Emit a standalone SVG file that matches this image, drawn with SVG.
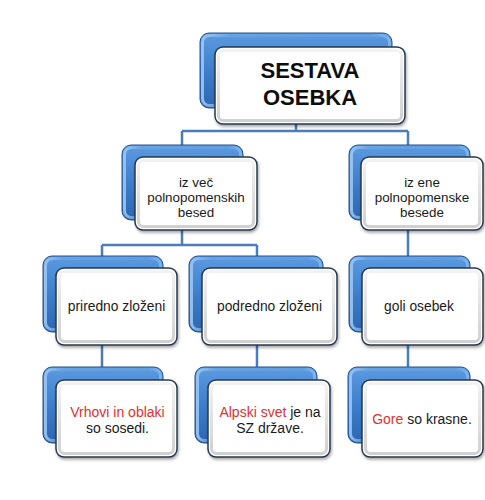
<svg xmlns="http://www.w3.org/2000/svg" width="485" height="500" viewBox="0 0 485 500">
<defs>
<linearGradient id="gBlue" x1="0" y1="0" x2="0" y2="1">
<stop offset="0" stop-color="#5C9BE0"/>
<stop offset="0.5" stop-color="#3E7ECC"/>
<stop offset="1" stop-color="#2C66B0"/>
</linearGradient>
<linearGradient id="gBlueHi" x1="0" y1="0" x2="1" y2="0">
<stop offset="0" stop-color="#9CC7F5" stop-opacity="0.9"/>
<stop offset="0.15" stop-color="#9CC7F5" stop-opacity="0.2"/>
<stop offset="0.9" stop-color="#9CC7F5" stop-opacity="0.1"/>
<stop offset="1" stop-color="#9CC7F5" stop-opacity="0.6"/>
</linearGradient>
<linearGradient id="gBevel" x1="0" y1="0" x2="0" y2="1">
<stop offset="0" stop-color="#F2F2F2"/>
<stop offset="1" stop-color="#D0D0D0"/>
</linearGradient>
<filter id="sh" x="-10%" y="-10%" width="125%" height="130%">
<feDropShadow dx="1" dy="2" stdDeviation="1.6" flood-color="#000" flood-opacity="0.35"/>
</filter>
</defs>
<style>
.b{fill:url(#gBlue);stroke:#22508E;stroke-width:1}
.bh{fill:none;stroke:url(#gBlueHi);stroke-width:3}
.w{fill:#FFFFFF;stroke:#26384F;stroke-width:1.5;filter:url(#sh)}
.wi{fill:none;stroke:url(#gBevel);stroke-width:3}
.c{fill:none;stroke:#4A7DBA;stroke-width:2.5}
text{font-family:"Liberation Sans",Arial,sans-serif;fill:#1A1A1A;text-anchor:middle}
.t{font-size:22px;font-weight:bold;fill:#0D0D0D}
.m{font-size:13.4px}
.l3{font-size:13.8px}
.s{font-size:14px}
.r{fill:#E3302F}
</style>
<g id="connectors">
<path class="c" d="M296 110 V131 M182 131 H408 M182 131 V146 M408 131 V146"/>
<path class="c" d="M182 220 V245 M102 245 H257 M102 245 V257 M257 245 V257"/>
<path class="c" d="M408 220 V257"/>
<path class="c" d="M102 332 V368 M257 332 V368 M408 332 V368"/>
</g>
<g id="n-root">
<rect class="b" x="200" y="33" width="192" height="75" rx="9"/>
<rect class="bh" x="202.5" y="35.5" width="187" height="70" rx="7"/>
<rect class="w" x="215" y="47" width="190" height="77" rx="8"/>
<rect class="wi" x="218.5" y="50.5" width="183" height="70" rx="5"/>
<text class="t" x="310" y="78">SESTAVA</text>
<text class="t" x="310" y="105">OSEBKA</text>
</g>
<g id="n-vec">
<rect class="b" x="122" y="145" width="121" height="75" rx="9"/>
<rect class="bh" x="124.5" y="147.5" width="116" height="70" rx="7"/>
<rect class="w" x="135" y="157" width="122" height="73" rx="8"/>
<rect class="wi" x="138.5" y="160.5" width="115" height="66" rx="5"/>
<text class="m" x="196" y="187">iz več</text>
<text class="m" x="196" y="202">polnopomenskih</text>
<text class="m" x="196" y="217">besed</text>
</g>
<g id="n-ene">
<rect class="b" x="349" y="145" width="121" height="75" rx="9"/>
<rect class="bh" x="351.5" y="147.5" width="116" height="70" rx="7"/>
<rect class="w" x="361" y="157" width="122" height="73" rx="8"/>
<rect class="wi" x="364.5" y="160.5" width="115" height="66" rx="5"/>
<text class="m" x="422" y="187">iz ene</text>
<text class="m" x="422" y="202">polnopomenske</text>
<text class="m" x="422" y="217">besede</text>
</g>
<g id="n-priredno">
<rect class="b" x="43" y="256" width="120" height="76" rx="9"/>
<rect class="bh" x="45.5" y="258.5" width="115" height="71" rx="7"/>
<rect class="w" x="56" y="268" width="121" height="77" rx="8"/>
<rect class="wi" x="59.5" y="271.5" width="114" height="70" rx="5"/>
<text class="l3" x="116.5" y="311">priredno zloženi</text>
</g>
<g id="n-podredno">
<rect class="b" x="189" y="256" width="134" height="76" rx="9"/>
<rect class="bh" x="191.5" y="258.5" width="129" height="71" rx="7"/>
<rect class="w" x="202" y="268" width="135" height="77" rx="8"/>
<rect class="wi" x="205.5" y="271.5" width="128" height="70" rx="5"/>
<text class="l3" x="269.5" y="311">podredno zloženi</text>
</g>
<g id="n-goli">
<rect class="b" x="349" y="256" width="121" height="76" rx="9"/>
<rect class="bh" x="351.5" y="258.5" width="116" height="71" rx="7"/>
<rect class="w" x="362" y="268" width="121" height="77" rx="8"/>
<rect class="wi" x="365.5" y="271.5" width="114" height="70" rx="5"/>
<text class="l3" x="419" y="311">goli osebek</text>
</g>
<g id="n-vrhovi">
<rect class="b" x="43" y="367" width="120" height="76" rx="9"/>
<rect class="bh" x="45.5" y="369.5" width="115" height="71" rx="7"/>
<rect class="w" x="56" y="380" width="121" height="77" rx="8"/>
<rect class="wi" x="59.5" y="383.5" width="114" height="70" rx="5"/>
<text class="s" x="117.5" y="416.5"><tspan class="r">Vrhovi in oblaki</tspan></text>
<text class="s" x="117.5" y="432.5">so sosedi.</text>
</g>
<g id="n-alpski">
<rect class="b" x="195" y="367" width="122" height="76" rx="9"/>
<rect class="bh" x="197.5" y="369.5" width="117" height="71" rx="7"/>
<rect class="w" x="208" y="380" width="122" height="77" rx="8"/>
<rect class="wi" x="211.5" y="383.5" width="115" height="70" rx="5"/>
<text class="s" x="270" y="416.5"><tspan class="r">Alpski svet</tspan> je na</text>
<text class="s" x="270" y="432.5">SZ države.</text>
</g>
<g id="n-gore">
<rect class="b" x="348" y="367" width="122" height="76" rx="9"/>
<rect class="bh" x="350.5" y="369.5" width="117" height="71" rx="7"/>
<rect class="w" x="362" y="380" width="121" height="77" rx="8"/>
<rect class="wi" x="365.5" y="383.5" width="114" height="70" rx="5"/>
<text class="s" x="422" y="424"><tspan class="r">Gore</tspan> so krasne.</text>
</g>
</svg>
